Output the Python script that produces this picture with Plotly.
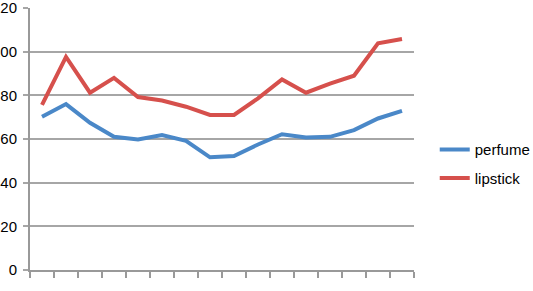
import plotly.graph_objects as go

categories = list(range(1, 17))
perfume = [70.2, 76, 67.4, 61, 59.8, 61.8, 59.2, 51.6, 52.2, 57.5, 62.2, 60.7, 61, 64.1, 69.4, 72.9]
lipstick = [75.6, 97.6, 81.2, 88, 79.2, 77.6, 74.8, 71, 71, 78.6, 87.3, 81.2, 85.4, 89, 103.8, 105.8]
y_ticks = [0, 20, 40, 60, 80, 100, 120]
x_boundaries = [c - 0.5 for c in categories] + [categories[-1] + 0.5]

fig = go.Figure()
fig.add_trace(go.Scatter(x=categories, y=perfume, name="perfume", mode="lines",
                         legendgroup="a",
                         line=dict(color="#4a88c8", width=4)))
fig.add_trace(go.Scatter(x=categories, y=lipstick, name="lipstick", mode="lines",
                         legendgroup="b",
                         line=dict(color="#d6504c", width=4)))

font = dict(family="Liberation Sans, Arial, sans-serif", size=15, color="#000000")
fig.update_layout(
    width=533, height=291,
    margin=dict(l=30, r=119, t=8, b=21, autoexpand=False),
    paper_bgcolor="white", plot_bgcolor="white",
    font=font,
    showlegend=True,
    legend=dict(x=1.054, y=0.406, xanchor="left", yanchor="middle",
                font=font, bgcolor="rgba(0,0,0,0)", tracegroupgap=6,
                itemwidth=30),
    xaxis=dict(range=[0.5, 16.5], tickmode="array", tickvals=x_boundaries,
               ticktext=[""] * len(x_boundaries), ticks="outside", ticklen=6,
               tickcolor="#999999", tickwidth=1.5, showgrid=False,
               showline=True, linecolor="#999999", linewidth=2, zeroline=False),
    yaxis=dict(range=[0, 120], tickmode="array", tickvals=y_ticks,
               ticks="outside", ticklen=5, tickcolor="#a6a6a6", tickwidth=1.5,
               showgrid=True, gridcolor="#a6a6a6", gridwidth=1.5,
               showline=True, linecolor="#999999", linewidth=2, zeroline=False,
               ticklabelstandoff=3, ticklabeloverflow="allow", automargin=False),
)
fig.write_html("out.html")
